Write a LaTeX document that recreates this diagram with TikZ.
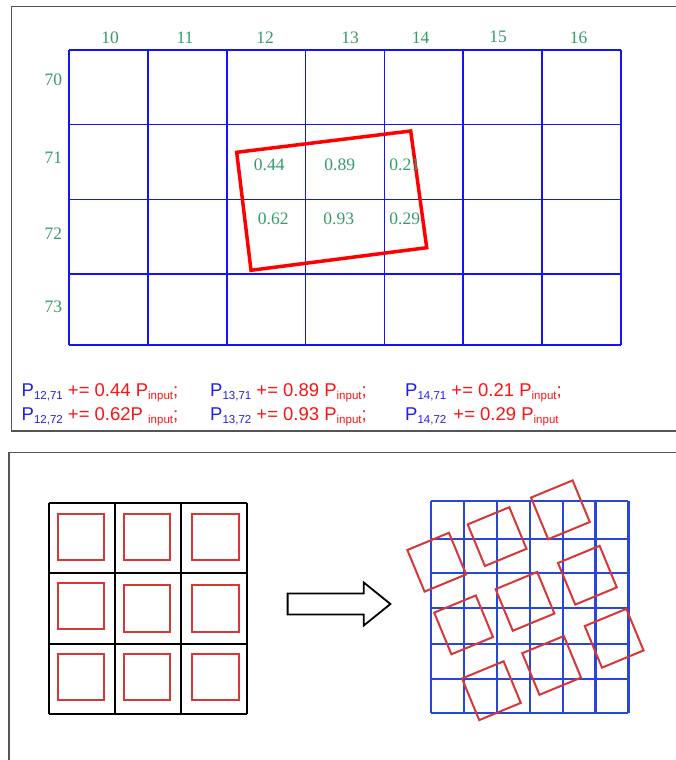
\documentclass[tikz,border=0pt]{standalone}
\usepackage{fontspec}
\setmainfont{Liberation Serif}
\setsansfont{Liberation Sans}
\definecolor{gridblue}{RGB}{20,20,250}
\definecolor{gridblueB}{RGB}{40,70,215}
\definecolor{numgreen}{RGB}{55,155,105}
\definecolor{pblue}{RGB}{30,30,240}
\definecolor{pred}{RGB}{250,20,20}
\definecolor{sqred}{RGB}{215,55,55}
\definecolor{framegray}{RGB}{85,85,85}
\newcommand\mysub[1]{\raisebox{-3pt}{\fontsize{11.5}{11.5}\selectfont #1}}
\newcommand\Psub[1]{P\mysub{#1}}
\tikzset{
  frameline/.style={draw=framegray, line width=1.5pt},
  topgrid/.style={draw=gridblue, line width=1.3pt},
  quad/.style={draw=red, line width=3.5pt, line join=miter},
  numlbl/.style={text=numgreen, inner sep=0pt, font=\rmfamily\fontsize{17.5}{17.5}\selectfont},
  eqtext/.style={anchor=base west, inner sep=0pt, font=\sffamily\fontsize{18.5}{18.5}\selectfont},
  blackgrid/.style={draw=black, line width=2.2pt},
  botgrid/.style={draw=gridblueB, line width=2.4pt},
  redsq/.style={draw=sqred, line width=2pt},
  blockarrow/.style={draw=black, line width=1.8pt, line join=miter, fill=white}
}
\begin{document}
\begin{tikzpicture}[x=1pt, y=-1pt]
\useasboundingbox (0,0) rectangle (675,760);
% panel frames
\draw[frameline] (677,6.7) -- (11.7,6.7) -- (11.7,431) -- (677,431);
\draw[frameline] (677,452.7) -- (9,452.7) -- (9,762);
% top grid
\foreach \x in {69,148,227,305.5,384.5,463,542,621}
  \draw[topgrid] (\x,50) -- (\x,345);
\foreach \y in {50,124.5,199.3,274,345}
  \draw[topgrid] (69,\y) -- (621,\y);
% column labels
\node[numlbl] (c10) at (110,37.3) {10};
\node[numlbl] (c11) at (185,37.3) {11};
\node[numlbl] (c12) at (265,37.3) {12};
\node[numlbl] (c13) at (350,37.3) {13};
\node[numlbl] (c14) at (420.7,37.3) {14};
\node[numlbl] (c15) at (498,37.3) {15};
\node[numlbl] (c16) at (578.5,37.3) {16};
% row labels
\node[numlbl] (r70) at (53.3,80) {70};
\node[numlbl] (r71) at (53.3,157.7) {71};
\node[numlbl] (r72) at (53.3,233.3) {72};
\node[numlbl] (r73) at (53.3,306.7) {73};
% red quad
\draw[quad] (236.7,152.3) -- (410.7,131) -- (426.7,247.7) -- (251,270.3) -- cycle;
% weights
\node[numlbl] (w1) at (269.3,165) {0.44};
\node[numlbl] (w2) at (339.7,165) {0.89};
\node[numlbl] (w3) at (404.7,165) {0.21};
\node[numlbl] (w4) at (273.3,218.7) {0.62};
\node[numlbl] (w5) at (338.7,218.7) {0.93};
\node[numlbl] (w6) at (404.7,218.7) {0.29};
% equations
\node[eqtext] (e1) at (21.5,396.7) {\textcolor{pblue}{\Psub{12,71}} \textcolor{pred}{+= 0.44 \Psub{input};}};
\node[eqtext] (e2) at (210,396.7) {\textcolor{pblue}{\Psub{13,71}} \textcolor{pred}{+= 0.89 \Psub{input};}};
\node[eqtext] (e3) at (405,396.7) {\textcolor{pblue}{\Psub{14,71}} \textcolor{pred}{+= 0.21 \Psub{input};}};
\node[eqtext] (e4) at (21.5,420) {\textcolor{pblue}{\Psub{12,72}} \textcolor{pred}{+= 0.62P \mysub{input};}};
\node[eqtext] (e5) at (210,420) {\textcolor{pblue}{\Psub{13,72}} \textcolor{pred}{+= 0.93 \Psub{input};}};
\node[eqtext] (e6) at (405,420) {\textcolor{pblue}{\Psub{14,72}}\hspace{2pt} \textcolor{pred}{+= 0.29 \Psub{input}}};
% bottom left grid
\foreach \x in {49.3,115.3,181.3,247.2}
  \draw[blackgrid] (\x,503) -- (\x,713.6);
\foreach \y in {503,572.6,643.6,713.6}
  \draw[blackgrid] (49.3,\y) -- (247.2,\y);
\foreach \x in {57.7,124,192.3}
  \draw[redsq] (\x,514) rectangle ++(46.3,46.3);
\draw[redsq] (57.7,583) rectangle ++(46.3,46.3);
\draw[redsq] (124,585.3) rectangle ++(46.3,46.3);
\draw[redsq] (192.3,585.3) rectangle ++(46.3,46.3);
\foreach \x in {57.7,124,192.3}
  \draw[redsq] (\x,653.7) rectangle ++(46.3,46.3);
% block arrow
\draw[blockarrow] (287.6,593.5) -- (363.8,593.5) -- (363.8,582.5) -- (390.4,604) -- (363.8,625.5) -- (363.8,614.5) -- (287.6,614.5) -- cycle;
% bottom right grid
\foreach \x in {430.7,463.7,496.7,529.7,562.7,595.5,628.3}
  \draw[botgrid] (\x,501) -- (\x,713);
\foreach \y in {501,538.7,573,607.7,643.7,678.7,713}
  \draw[botgrid] (430.7,\y) -- (628.3,\y);
% rotated squares
\foreach \cx/\cy in {560.4/509.8, 497.1/536.6, 436.75/562.2, 587.4/575.2, 525/601.35, 463.6/624.85, 614.15/638.25, 551.65/665.4, 491.4/690.7}
  \draw[redsq, shift={(\cx,\cy)}] (-29.4,-12.2) -- (12.2,-29.4) -- (29.4,12.2) -- (-12.2,29.4) -- cycle;
\end{tikzpicture}
\end{document}
